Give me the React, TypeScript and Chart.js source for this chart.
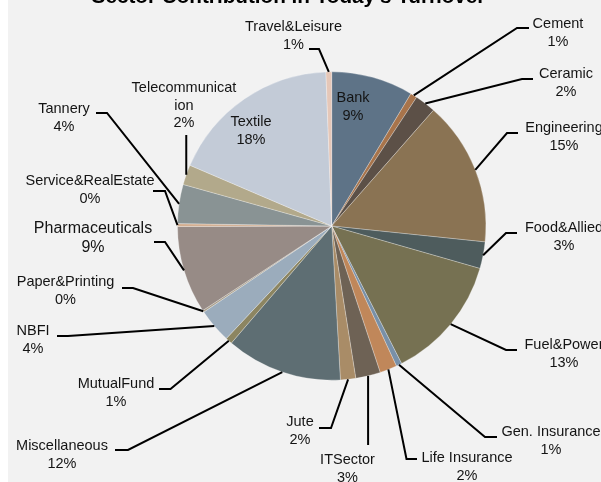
import React, { useEffect, useRef } from 'react';
import { Chart, registerables } from 'chart.js';

Chart.register(...registerables);

const chartTitle = "Sector Contribution in Today's Turnover";

const categories = [
  'Bank', 'Cement', 'Ceramic', 'Engineering', 'Food&Allied', 'Fuel&Power',
  'Gen. Insurance', 'Life Insurance', 'ITSector', 'Jute', 'Miscellaneous',
  'MutualFund', 'NBFI', 'Paper&Printing', 'Pharmaceuticals',
  'Service&RealEstate', 'Tannery', 'Telecommunication', 'Textile', 'Travel&Leisure',
];

const shares = [
  8.6, 0.7, 2.2, 15.2, 2.8, 13.1,
  0.6, 1.8, 2.6, 1.6, 12.2,
  0.7, 3.6, 0.2, 9.2,
  0.3, 4.1, 2.1, 18.0, 0.6,
];

const sliceColors = [
  '#5e7387', '#a8744b', '#5c5047', '#8a7353', '#4e5c5d', '#767152',
  '#7890a8', '#c0875a', '#6e6255', '#a98c67', '#5e6e73',
  '#8c8561', '#9bacbc', '#aa9f8a', '#978b86',
  '#d2ad8f', '#899394', '#b2a98b', '#c3cbd7', '#e5c7b8',
];

// Label placement (canvas px): text centre of first line, elbow point, end of horizontal tick.
type LabelSpot = { tx: number; ty: number; ex?: number | null; ey?: number; hx?: number; inside?: boolean; big?: boolean; wrap?: number };
const labelLayout: LabelSpot[] = [
  { tx: 345, ty: 98, inside: true },
  { tx: 550, ty: 24, ex: 509, ey: 28, hx: 521 },
  { tx: 558, ty: 74, ex: 514, ey: 79, hx: 525 },
  { tx: 556, ty: 128, ex: 499, ey: 133, hx: 510 },
  { tx: 556, ty: 228, ex: 498, ey: 233, hx: 509 },
  { tx: 556, ty: 345, ex: 498, ey: 350, hx: 509 },
  { tx: 543, ty: 432, ex: 477, ey: 437, hx: 489 },
  { tx: 459, ty: 458, ex: 398.5, ey: 459, hx: 409 },
  { tx: 339.5, ty: 460, ex: null, ey: 445 },
  { tx: 292, ty: 422, ex: 323, ey: 428, hx: 311 },
  { tx: 54, ty: 446, ex: 120, ey: 450, hx: 107 },
  { tx: 108, ty: 384, ex: 162.5, ey: 389, hx: 151 },
  { tx: 25, ty: 331, ex: 60, ey: 336, hx: 49 },
  { tx: 57.5, ty: 282, ex: 125, ey: 288, hx: 114 },
  { tx: 85, ty: 229, ex: 157, ey: 242, hx: 146, big: true },
  { tx: 82, ty: 181, ex: 157, ey: 191, hx: 145 },
  { tx: 56, ty: 109, ex: 99, ey: 113, hx: 88 },
  { tx: 176, ty: 88, ex: null, ey: 135, wrap: 14 },
  { tx: 243, ty: 122, inside: true },
  { tx: 285.5, ty: 27, ex: 311, ey: 49, hx: 301 },
];

const FONT = '"Liberation Sans", Arial, Helvetica, sans-serif';

const labelPlugin = {
  id: 'sectorLabels',
  afterDraw(chart: any) {
    const ctx = chart.ctx as CanvasRenderingContext2D;
    const meta = chart.getDatasetMeta(0);
    const data = chart.data.datasets[0].data as number[];
    const total = data.reduce((a, b) => a + b, 0);
    ctx.save();
    // title
    ctx.fillStyle = '#000';
    ctx.font = `bold 20.7px ${FONT}`;
    ctx.textAlign = 'center';
    ctx.textBaseline = 'alphabetic';
    ctx.fillText(chartTitle, 280.5, 3);

    meta.data.forEach((arc: any, i: number) => {
      const spot = labelLayout[i];
      if (!spot) return;
      const p = arc.getProps(['x', 'y', 'startAngle', 'endAngle', 'outerRadius'], true);
      const mid = (p.startAngle + p.endAngle) / 2;
      const edgeX = p.x + Math.cos(mid) * p.outerRadius;
      const edgeY = p.y + Math.sin(mid) * p.outerRadius;
      if (!spot.inside) {
        const ex = spot.ex == null ? edgeX : spot.ex;
        ctx.beginPath();
        ctx.strokeStyle = '#000';
        ctx.lineWidth = 2;
        ctx.lineJoin = 'miter';
        ctx.moveTo(edgeX, edgeY);
        ctx.lineTo(ex, spot.ey as number);
        if (spot.hx != null) ctx.lineTo(spot.hx, spot.ey as number);
        ctx.stroke();
      }
      const name = chart.data.labels[i] as string;
      const pct = Math.round((data[i] / total) * 100) + '%';
      const lines = spot.wrap ? [name.slice(0, spot.wrap), name.slice(spot.wrap), pct] : [name, pct];
      const size = spot.big ? 16 : 14.5;
      const lh = spot.big ? 19 : 17.5;
      ctx.font = `${size}px ${FONT}`;
      ctx.fillStyle = '#141414';
      ctx.textAlign = 'center';
      ctx.textBaseline = 'middle';
      lines.forEach((ln, k) => ctx.fillText(ln, spot.tx, spot.ty + k * lh));
    });
    ctx.restore();
  },
};

export default function App() {
  const ref = useRef<HTMLCanvasElement | null>(null);
  useEffect(() => {
    if (!ref.current) return;
    const chart = new Chart(ref.current, {
      type: 'pie',
      data: {
        labels: categories,
        datasets: [{
          data: shares,
          backgroundColor: sliceColors,
          borderColor: 'rgba(255,255,255,0.45)',
          borderWidth: 0.6,
          hoverOffset: 0,
        }],
      },
      options: {
        responsive: false,
        animation: false,
        events: [],
        layout: { padding: { left: 169.2, right: 114.8, top: 71.5, bottom: 101.5 } },
        plugins: {
          legend: { display: false },
          title: { display: false },
          tooltip: { enabled: false },
        },
      },
      plugins: [labelPlugin],
    });
    return () => chart.destroy();
  }, []);
  return (
    <div style={{ position: 'absolute', left: 8, top: 0, width: 593, height: 482, background: '#f2f2f2', overflow: 'hidden' }}>
      <canvas ref={ref} width={593} height={482} style={{ display: 'block', width: 593, height: 482 }} />
    </div>
  );
}
